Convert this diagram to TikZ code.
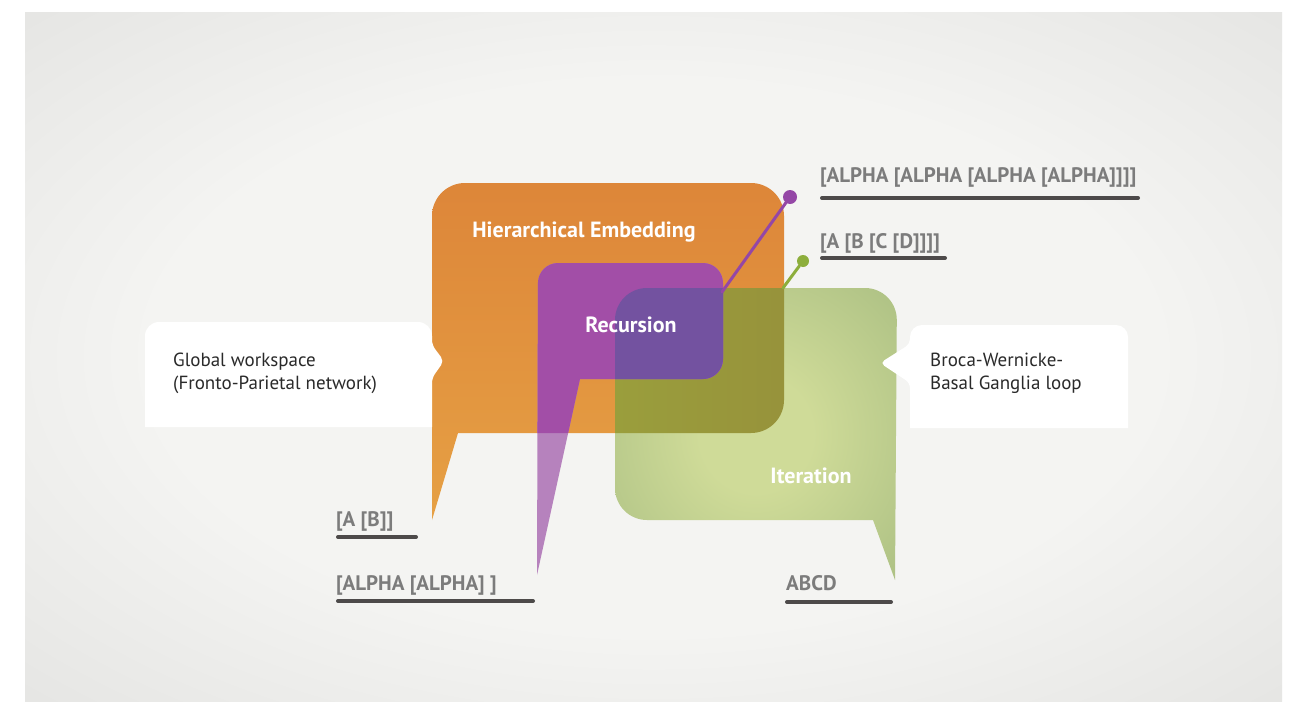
\documentclass[tikz,border=0pt]{standalone}
\usepackage{fontspec}
\setmainfont{PT Sans}
\usetikzlibrary{positioning}
\definecolor{panelLight}{HTML}{F4F4F2}
\definecolor{panelDark}{HTML}{D8D8D6}
\definecolor{hierTop}{HTML}{DD8639}
\definecolor{hierBottom}{HTML}{E6A044}
\definecolor{iterLight}{HTML}{CFDB98}
\definecolor{iterDark}{HTML}{9FB67C}
\definecolor{iterOlive}{HTML}{9A9E3C}
\definecolor{iterOliveDark}{HTML}{958B3A}
\definecolor{recPale}{HTML}{B682BD}
\definecolor{recPurple}{HTML}{A24EA7}
\definecolor{recDeep}{HTML}{7352A0}
\definecolor{recStalk}{HTML}{9447A6}
\definecolor{iterStalk}{HTML}{8DAE3C}
\definecolor{tagGray}{HTML}{7C7C7C}
\definecolor{ruleGray}{HTML}{4D4A4A}
\definecolor{noteInk}{HTML}{2A2A2A}
\pgfdeclareradialshading{panelglow}{\pgfpoint{0bp}{0bp}}{color(0bp)=(panelLight); color(20bp)=(panelLight); color(50bp)=(panelDark)}
\pgfdeclareradialshading{iterglow}{\pgfpoint{0bp}{0bp}}{color(0bp)=(iterLight); color(10bp)=(iterLight); color(46bp)=(iterDark); color(50bp)=(iterDark)}
\tikzstyle{bubbletitle}=[
	text=white,
	font=\fontsize{22}{24}\selectfont\bfseries,
	inner sep=0pt
]
\tikzstyle{notetext}=[
	text=noteInk,
	align=left,
	font=\fontsize{19}{23}\selectfont,
	inner sep=0pt,
	anchor=west
]
\tikzstyle{codetag}=[
	text=tagGray,
	font=\fontsize{21}{22}\selectfont\bfseries,
	inner sep=0pt,
	anchor=base west
]
\tikzstyle{tagrule}=[
	draw=ruleGray,
	line width=4pt,
	line cap=round
]
\tikzstyle{stalk}=[
	line width=3pt,
	line cap=round
]
\tikzstyle{knob}=[
	circle,
	inner sep=0pt,
	minimum size=14pt
]
\begin{document}
\begin{tikzpicture}[x=1pt,y=-1pt]
\useasboundingbox (0,0) rectangle (1297,701);
\fill[white] (0,0) rectangle (1297,701);
\shade[shading=panelglow] (25,13) rectangle (1282,701);
\shade[top color=hierTop, bottom color=hierBottom] (432,520) [rounded corners=33] -- (432,183) -- (784,183) -- (784,433) [sharp corners] -- (458,433) -- cycle;
\shade[shading=iterglow] (895,580) [rounded corners=32] -- (897,288) -- (615,288) -- (615,520) [sharp corners] -- (873,520) -- cycle;
\begin{scope}
	\clip[rounded corners=33] (432,183) rectangle (784,433);
	\shade[left color=iterOlive, right color=iterOliveDark, rounded corners=32] (615,288) rectangle (897,520);
\end{scope}
\fill[recPale] (537,575) [rounded corners=20] -- (538,263) -- (723,263) -- (723,379) [sharp corners] -- (580,379) -- cycle;
\begin{scope}
	\clip[rounded corners=33] (432,183) rectangle (784,433);
	\fill[recPurple] (537,575) [rounded corners=20] -- (538,263) -- (723,263) -- (723,379) [sharp corners] -- (580,379) -- cycle;
\end{scope}
\begin{scope}
	\clip[rounded corners=32] (615,288) rectangle (897,520);
	\fill[recDeep, rounded corners=20] (538,263) rectangle (723,379);
\end{scope}
\coordinate (recStem) at (722,292);
\coordinate (iterStem) at (783,288);
\node[knob, fill=recStalk] (recKnob) at (790,197) {};
\node[knob, fill=iterStalk, minimum size=12pt] (iterKnob) at (803,261) {};
\draw[stalk, draw=recStalk] (recStem) -- (recKnob);
\draw[stalk, draw=iterStalk] (iterStem) -- (iterKnob);
\fill[white] (145,427) [rounded corners=14] -- (145,322) -- (432,322) [rounded corners=5] -- (432,345) -- (444,361) -- (432,378) [sharp corners] -- (432,427) -- cycle;
\fill[white] (910,428) [rounded corners=5] -- (910,383) -- (880,363) -- (910,344) [rounded corners=12] -- (910,325) -- (1128,325) [sharp corners] -- (1128,428) -- cycle;
\node[bubbletitle] (hierTitle) at (584,232) {Hierarchical Embedding};
\node[bubbletitle] (recTitle) at (631,325) {Recursion};
\node[bubbletitle] (iterTitle) at (811,476) {Iteration};
\node[notetext] (workspaceNote) at (173,373) {Global workspace\\(Fronto-Parietal network)};
\node[notetext] (loopNote) at (930,373) {Broca-Wernicke-\\Basal Ganglia loop};
\node[codetag] (alphaNest) at (820,182) {[ALPHA [ALPHA [ALPHA [ALPHA]]]]};
\node[codetag, below=66pt of alphaNest.base west, anchor=base west] (letterNest) {[A [B [C [D]]]]};
\node[codetag] (pairShort) at (336,526) {[A [B]]};
\node[codetag, below=64pt of pairShort.base west, anchor=base west] (pairLong) {[ALPHA [ALPHA] ]};
\node[codetag] (flatRun) at (786,590) {ABCD};
\draw[tagrule] ([xshift=2pt,yshift=-16pt]alphaNest.base west) -- ++(316,0);
\draw[tagrule] ([xshift=2pt,yshift=-10pt]letterNest.base west) -- ++(123,0);
\draw[tagrule] ([xshift=2pt,yshift=-11pt]pairShort.base west) -- ++(78,0);
\draw[tagrule] ([xshift=2pt,yshift=-11pt]pairLong.base west) -- ++(195,0);
\draw[tagrule] ([xshift=1pt,yshift=-12pt]flatRun.base west) -- ++(104,0);
\end{tikzpicture}
\end{document}
